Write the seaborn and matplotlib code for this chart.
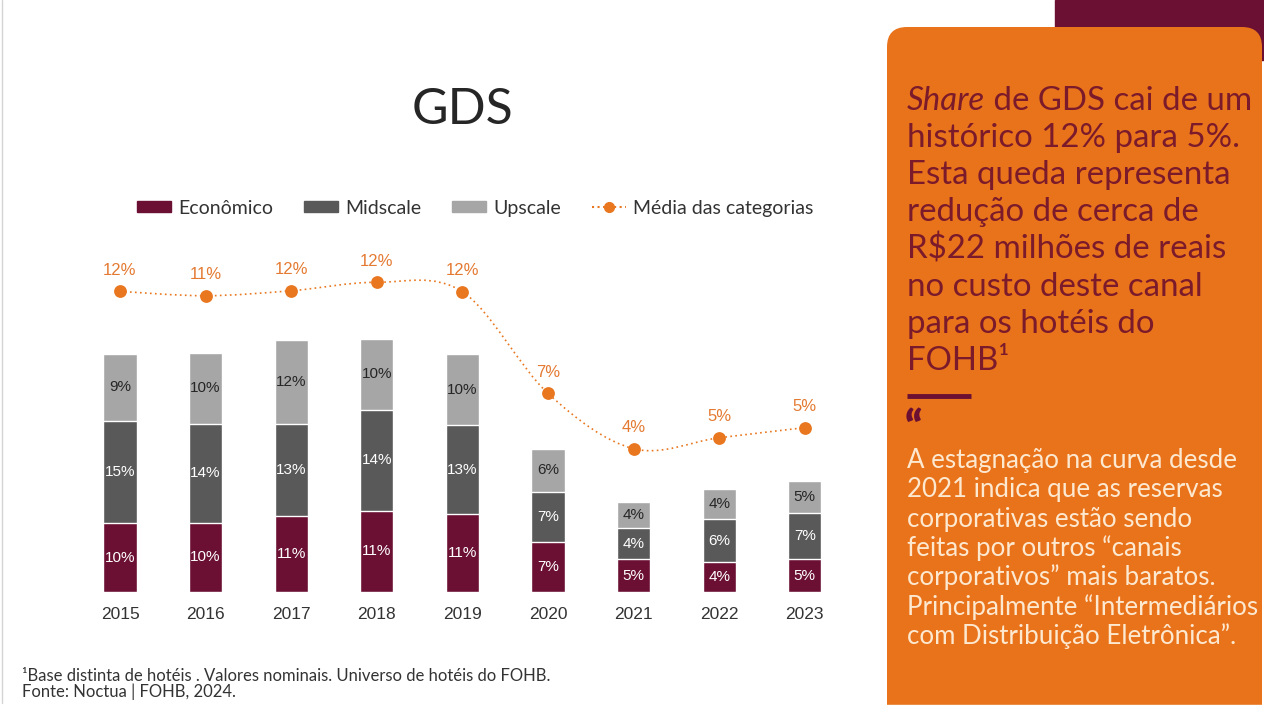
import numpy as np
import matplotlib.pyplot as plt
import seaborn as sns
from matplotlib.patches import Patch, FancyBboxPatch, Rectangle, PathPatch
from matplotlib.lines import Line2D
from matplotlib.path import Path

# data
years = ['2015', '2016', '2017', '2018', '2019', '2020', '2021', '2022', '2023']
economico = [9.8, 9.9, 10.9, 11.6, 11.1, 7.1, 4.7, 4.3, 4.7]
midscale = [14.7, 14.1, 13.1, 14.4, 12.7, 7.2, 4.4, 6.1, 6.6]
upscale = [9.5, 10.2, 12.0, 10.2, 10.2, 6.2, 3.7, 4.3, 4.5]
media = [11.78, 11.57, 11.81, 12.22, 11.76, 6.84, 4.16, 4.69, 5.18]

lbl_econ = ['10%', '10%', '11%', '11%', '11%', '7%', '5%', '4%', '5%']
lbl_mid = ['15%', '14%', '13%', '14%', '13%', '7%', '4%', '6%', '7%']
lbl_up = ['9%', '10%', '12%', '10%', '10%', '6%', '4%', '4%', '5%']
lbl_media = ['12%', '11%', '12%', '12%', '12%', '7%', '4%', '5%', '5%']

MAROON = '#6b1033'
DARK = '#595959'
LIGHT = '#a6a6a6'
ORANGE = '#e8771f'
PANEL = '#e9731b'

W, H = 1264, 723
sns.set_style('white')
plt.rcParams['font.family'] = ['Lato', 'DejaVu Sans']
fig = plt.figure(figsize=(W / 100, H / 100), dpi=100)

# background layer in pixel coords
bg = fig.add_axes([0, 0, 1, 1], zorder=0)
bg.set_xlim(0, W)
bg.set_ylim(H, 0)
bg.axis('off')
bg.add_patch(Rectangle((1055, 0), W - 1055, 60, color=MAROON))
bg.add_patch(FancyBboxPatch((887 + 20, 27 + 20), 1262 - 887 - 40, 760, boxstyle='round,pad=20',
                            color=PANEL, lw=0))
bg.add_patch(Rectangle((0, 705), W, H - 705, color='white', zorder=3))
bg.plot([2, 2], [0, 703], color='#d4d4d4', lw=1)

bg.text(463, 124, 'GDS', fontsize=36, fontweight='normal', color='#262626', ha='center', va='baseline')

# panel text
top_lines = ['histórico 12% para 5%.', 'Esta queda representa', 'redução de cerca de',
             r'R\$22 milhões de reais', 'no custo deste canal', 'para os hotéis do', 'FOHB¹']
tcol = '#7a1a2a'
fs_top = 23.8
t = bg.text(907, 110, 'Share', fontsize=fs_top, style='italic', color=tcol, va='baseline')
fig.canvas.draw()
bb = t.get_window_extent()
x_after = bb.x1 / fig.dpi * 100
bg.text(x_after, 110, ' de GDS cai de um', fontsize=fs_top, color=tcol, va='baseline')
for i, s in enumerate(top_lines):
    bg.text(907, 110 + 37.15 * (i + 1), s, fontsize=fs_top, color=tcol, va='baseline')
bg.plot([907, 971], [396, 396], color=MAROON, lw=3.5, solid_capstyle='butt')
bg.text(905, 409, '\u201c', fontsize=31, fontweight='heavy', color=MAROON, va='top')

bot_lines = ['A estagnação na curva desde', '2021 indica que as reservas', 'corporativas estão sendo',
             'feitas por outros \u201ccanais', 'corporativos\u201d mais baratos.',
             'Principalmente \u201cIntermediários', 'com Distribuição Eletrônica\u201d.']
for i, s in enumerate(bot_lines):
    bg.text(907, 468 + 29.3 * i, s, fontsize=18.6, color='#fde8d0', va='baseline')

bg.text(22, 681, '¹Base distinta de hotéis . Valores nominais. Universo de hotéis do FOHB.',
        fontsize=12, color='#333333', va='baseline')
bg.text(22, 697, 'Fonte: Noctua | FOHB, 2024.', fontsize=12, color='#333333', va='baseline')

# chart
ax = fig.add_axes([77.2 / W, (H - 592) / H, 770.4 / W, 332 / H], zorder=2)
ax.patch.set_alpha(0)
econ = np.array(economico)
mid = np.array(midscale)
up = np.array(upscale)
for vals, col in [(econ + mid + up, LIGHT), (econ + mid, DARK), (econ, MAROON)]:
    sns.barplot(x=years, y=vals, color=col, saturation=1, width=0.39,
                edgecolor='white', linewidth=1, ax=ax)

num_font = ['Liberation Sans', 'DejaVu Sans']
for i in range(len(years)):
    ax.text(i, econ[i] / 2, lbl_econ[i], ha='center', va='center', color='white', fontsize=11, family=num_font)
    ax.text(i, econ[i] + mid[i] / 2, lbl_mid[i], ha='center', va='center', color='white', fontsize=11, family=num_font)
    ax.text(i, econ[i] + mid[i] + up[i] / 2, lbl_up[i], ha='center', va='center', color='#262626',
            fontsize=11, family=num_font)

ax.set_ylim(0, 332 / 7.0)
ax.set_yticks([])
ax.set_ylabel('')
sns.despine(ax=ax, left=True, bottom=True)
ax.tick_params(axis='x', length=0, pad=11, labelsize=12.5, labelcolor='#333333')
for lab in ax.get_xticklabels():
    lab.set_family(num_font)

# average line on its own scale
ax2 = ax.twinx()
xs = np.arange(len(years))
pts = np.column_stack([xs, media])
verts = [pts[0]]
codes = [Path.MOVETO]
for i in range(len(pts) - 1):
    p0 = pts[max(i - 1, 0)]
    p1, p2 = pts[i], pts[i + 1]
    p3 = pts[min(i + 2, len(pts) - 1)]
    verts += [p1 + (p2 - p0) / 6, p2 - (p3 - p1) / 6, p2]
    codes += [Path.CURVE4] * 3
ax2.add_patch(PathPatch(Path(verts, codes), facecolor='none', edgecolor=ORANGE, lw=1.2,
                        linestyle=(0, (1, 2))))
sns.scatterplot(x=xs, y=media, ax=ax2, color=ORANGE, s=85, edgecolor=ORANGE, linewidth=0, zorder=3)
for i in xs:
    ax2.annotate(lbl_media[i], (i, media[i]), xytext=(0, 15), textcoords='offset points',
                 ha='center', va='center', color='#e47a32', fontsize=12, family=num_font)
ax2.set_ylim(-2.78, 13.30)
ax2.axis('off')
ax.set_xlim(-0.5, 8.5)

handles = [Patch(color=MAROON), Patch(color=DARK), Patch(color=LIGHT),
           Line2D([], [], color=ORANGE, ls=':', marker='o', ms=7)]
fig.legend(handles, ['Econômico', 'Midscale', 'Upscale', 'Média das categorias'],
           loc='center', bbox_to_anchor=(475 / W, 1 - 208 / H), ncol=4, frameon=False,
           fontsize=14, handlelength=1.75, handleheight=0.5, handletextpad=0.35,
           columnspacing=1.6, labelcolor='#333333')

fig.savefig('out.png', dpi=100)
